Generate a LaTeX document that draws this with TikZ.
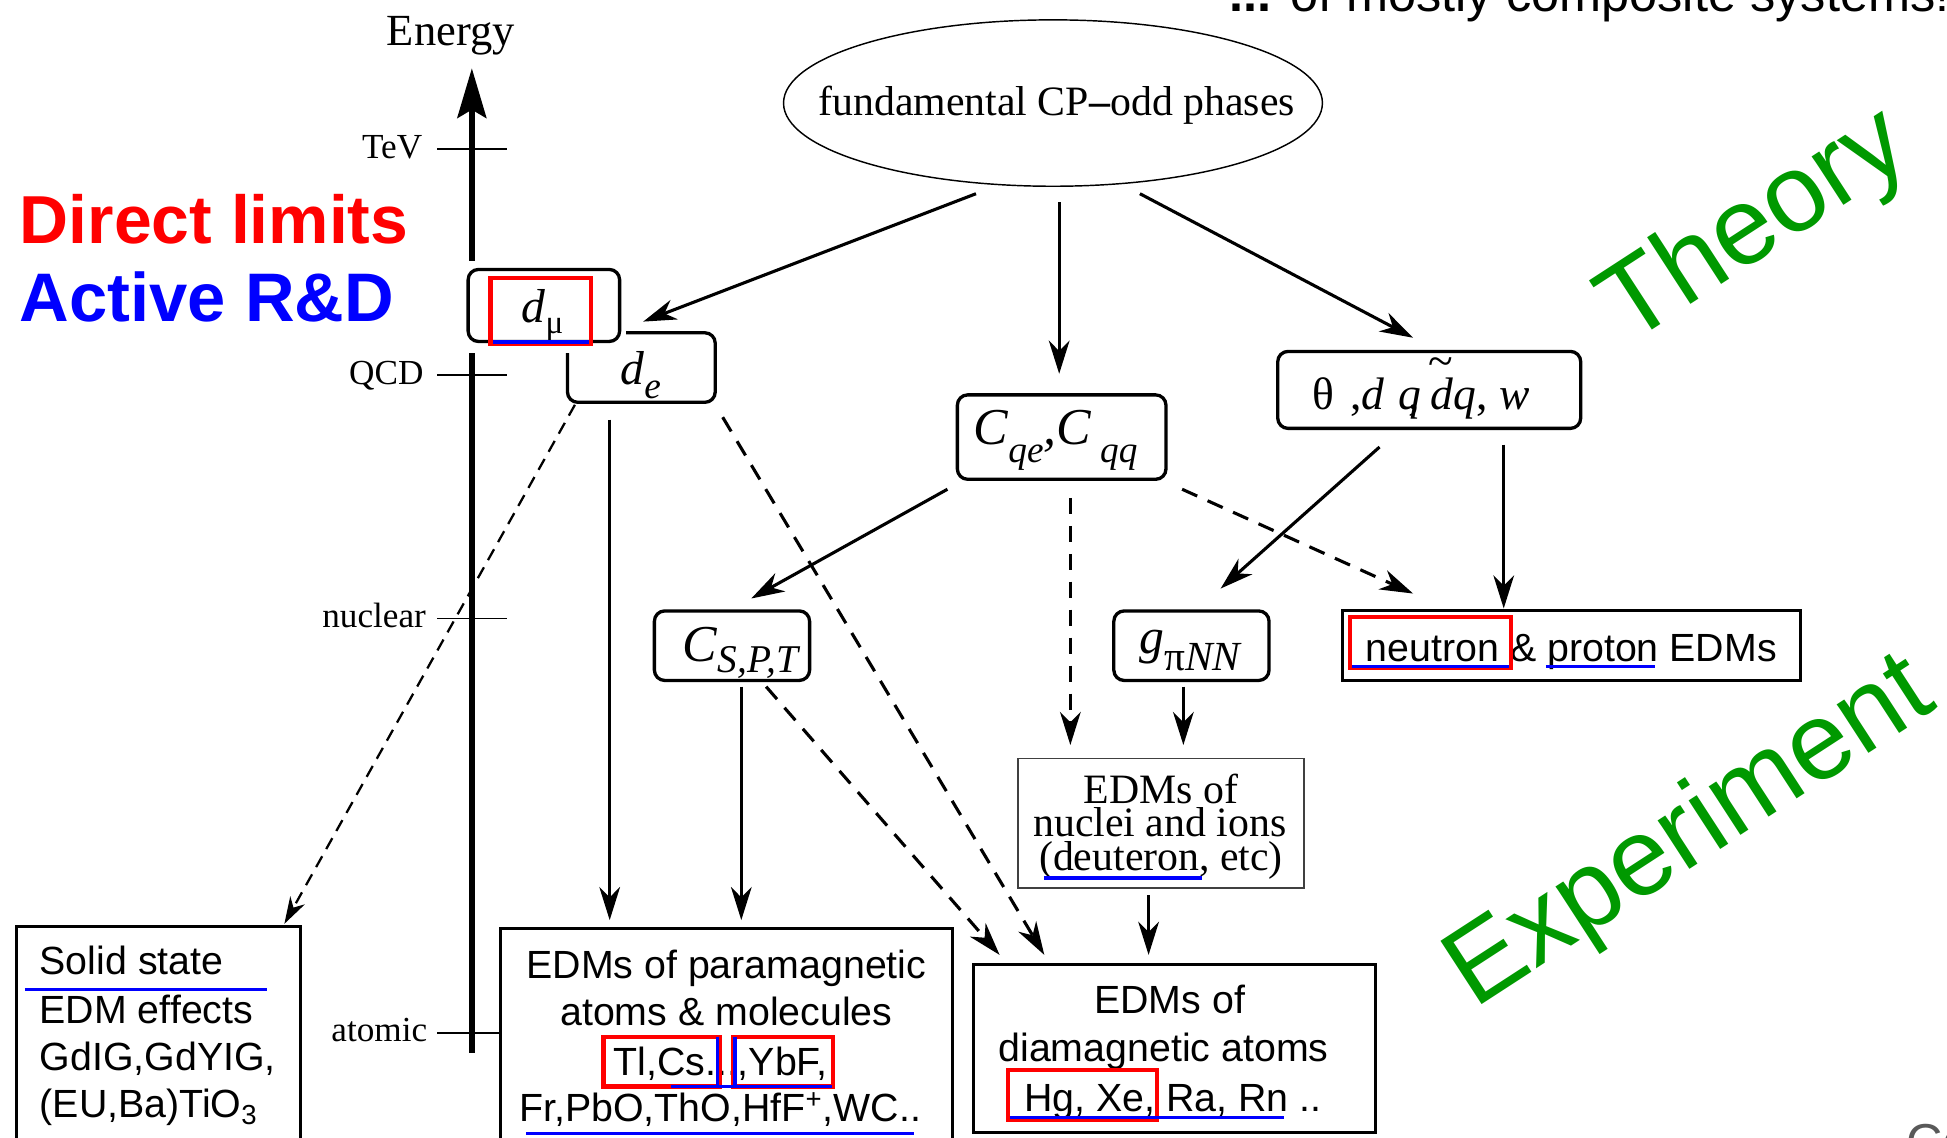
\documentclass[tikz,border=0pt]{standalone}
\usepackage{fontspec}
\setmainfont{Liberation Serif}
\setsansfont{Liberation Sans}
\usetikzlibrary{arrows.meta,shapes.geometric,calc}
\newcommand\fs[1]{\fontsize{#1}{#1}\selectfont}
\newcommand\pu{0.6pt}
\newcommand\tilded{\textit{d}\llap{\raisebox{0.72em}{\char"7E}\kern0.02em}}
\definecolor{gr}{RGB}{0,153,0}
\begin{document}
\begin{tikzpicture}[x=0.6pt,y=-0.6pt,
  tx/.style={inner sep=0pt, outer sep=0pt},
  rbox/.style={draw, line width=1.6pt, rounded corners=5pt, inner sep=0pt},
  sbox/.style={draw, line width=1.5pt, inner sep=0pt},
  arr/.style={line width=1.5pt, -{Stealth[length=16pt,width=10pt,inset=5pt]}},
  darr/.style={arr, dash pattern=on 8pt off 5.5pt},
  tickl/.style={line width=0.8pt},
  redb/.style={draw=red, line width=2pt},
  blul/.style={draw=blue, line width=1.6pt},
  serif/.style={tx, font=\fs{17}},
  para/.style={tx, font=\sffamily\fs{19}},
]
\fill[white] (0,0) rectangle (1568,916);
\useasboundingbox (0,0) rectangle (1568,916);

% ---------- energy axis ----------
\coordinate (axb) at (380,848);
\coordinate (axt) at (380,55);
\draw[line width=2.6pt, -{Stealth[length=24pt,width=14pt,inset=4pt]}] (axb) -- (axt);
\node[tx, anchor=base] (energy) at (363,37) {\fs{21.5}Energy};
\draw[tickl] (352,120) -- (408,120);
\draw[tickl] (352,302) -- (408,302);
\draw[tickl] (352,498) -- (408,498);
\draw[tickl] (352,832) -- (403,832);
\node[serif, anchor=base east] (tev) at (340,128) {TeV};
\node[serif, anchor=base east] (qcd) at (341,310) {QCD};
\node[serif, anchor=base east] (nucl) at (343,505) {nuclear};
\node[serif, anchor=base east] (atom) at (344,839) {atomic};

% ---------- legends ----------
\node[tx, anchor=base west, text=red] (dl) at (16,196) {\sffamily\bfseries\fs{32.8}Direct limits};
\node[tx, anchor=base west, text=blue] (ard) at (16,259) {\sffamily\bfseries\fs{33.2}Active R\&D};
\node[tx, anchor=base west] (toptxt) at (990,9) {\sffamily\fs{24.4}\textbf{...} of mostly composite systems!};
\node[tx, anchor=base west, text=black!65] (ca) at (1535,934) {\sffamily\fs{24.4}Ca};
\node[tx, rotate=33, text=gr] (theory) at (1414,184) {\sffamily\fs{53}Theory};
\node[tx, rotate=33, text=gr] (exper) at (1362,672) {\sffamily\fs{53}Experiment};

% ---------- top ellipse ----------
\node[draw, ellipse, line width=0.7pt, minimum width=434*\pu, minimum height=134*\pu, inner sep=0pt] (ell) at (848,83) {};
\node[tx, anchor=base] (ellt) at (851,93) {\fs{20.2}fundamental CP\textbf{--}odd phases};

% ---------- rounded boxes ----------
\node[rbox, minimum width=119*\pu, minimum height=56*\pu] (de) at (516.5,296) {};
\fill[white] (372,210) rectangle (504,284);
\node[rbox, fill=white, minimum width=122*\pu, minimum height=58*\pu] (dmu) at (438,246) {};
\node[rbox, minimum width=168*\pu, minimum height=68*\pu] (cq) at (855,352) {};
\node[rbox, minimum width=244*\pu, minimum height=62*\pu] (th) at (1151,314) {};
\node[rbox, minimum width=125*\pu, minimum height=56*\pu] (cspt) at (589.5,520) {};
\node[rbox, minimum width=125*\pu, minimum height=56*\pu] (gpi) at (959.5,520) {};

\node[tx, anchor=base] (dmut) at (437,260) {\fs{23}\textit{d}\raisebox{-0.22em}{\fs{16}μ}};
\node[tx, anchor=base] (det) at (516,310) {\fs{23}\textit{d}\raisebox{-0.28em}{\fs{18}\textit{e}}};
\node[tx, anchor=base] (cqt) at (850,358) {\fs{25}\textit{C}\raisebox{-0.35em}{\fs{18}\textit{qe}}\textit{,C}\,\raisebox{-0.35em}{\fs{18}\textit{qq}}};
\node[tx, anchor=base west] (tht) at (1057,330) {\fs{22}θ\hspace{0.35em},\textit{d}\hspace{0.3em}\textit{q}\kern-0.28em,\hspace{0.25em}\tilded\textit{q}, \textit{w}};
\node[tx, anchor=base west] (csptt) at (550,533) {\fs{25}\textit{C}\raisebox{-0.2em}{\fs{19}\textit{S,P,T}}};
\node[tx, anchor=base] (gpit) at (959,526) {\fs{24}\textit{g}\raisebox{-0.35em}{\fs{20}π\textit{NN}}};

% ---------- square boxes ----------
\node[sbox, minimum width=369*\pu, minimum height=56*\pu] (neut) at (1265.5,520) {};
\node[tx, anchor=base west] (neutt) at (1100,533) {\sffamily\fs{19}neutron \& proton EDMs};

\node[draw=black!75, line width=0.7pt, inner sep=0pt, minimum width=230*\pu, minimum height=104*\pu] (nuc) at (935,663) {};
\node[tx, anchor=base] (nuc1) at (935,647) {\fs{20.2}EDMs of};
\node[tx, anchor=base] (nuc2) at (934,674) {\fs{20.2}nuclei and ions};
\node[tx, anchor=base] (nuc3) at (935,701) {\fs{20.2}(deuteron, etc)};

\node[sbox, minimum width=229*\pu, minimum height=204*\pu] (solid) at (127.5,848) {};
\node[para, anchor=base west] (sol1) at (32,785) {Solid state};
\node[para, anchor=base west] (sol2) at (32,824) {EDM effects};
\node[para, anchor=base west] (sol3) at (32,862) {GdIG,GdYIG,};
\node[para, anchor=base west] (sol4) at (32,900) {(EU,Ba)TiO\textsubscript{3}};

\node[sbox, minimum width=364*\pu, minimum height=202*\pu] (para) at (585,849) {};
\node[para, anchor=base] (par1) at (585,788) {EDMs of paramagnetic};
\node[para, anchor=base] (par2) at (585,826) {atoms \& molecules};
\node[para, anchor=base west] (par3) at (494,866) {Tl,Cs...,YbF,};
\node[para, anchor=base] (par4) at (580,903) {Fr,PbO,ThO,HfF\textsuperscript{+},WC..};

\node[sbox, minimum width=324*\pu, minimum height=135*\pu] (dia) at (946,844.5) {};
\node[para, anchor=base] (dia1) at (942,816) {EDMs of};
\node[para, anchor=base] (dia2) at (937,855) {diamagnetic atoms};
\node[para, anchor=base west] (dia3) at (825,895) {Hg, Xe, Ra, Rn ..};

% ---------- red / blue marks ----------
\draw[redb] (395,224) rectangle (476,277);
\draw[blul] (397,275.5) -- (474,275.5);
\draw[redb] (1087,497) rectangle (1217,538);
\draw[blul] (1089,537) -- (1215,537);
\draw[blul] (1245,537) -- (1333,537);
\draw[blul] (841,707) -- (968,707);
\draw[blul] (20,797) -- (215,797);
\draw[redb] (486,835) rectangle (580,875);
\draw[redb] (590,835) rectangle (671,875);
\draw[blul] (578,835) -- (578,875);
\draw[blul] (592,835) -- (592,875);
\draw[blul] (540,875) -- (670,875);
\draw[blul] (424,913) -- (736,913);
\draw[redb] (812,862) rectangle (932,902);
\draw[blul] (813,900) -- (1034,900);

% ---------- connectors ----------
\draw[arr] ($(ell.center)+(-62,73)$) -- ($(dmu.center)+(80,13)$);
\draw[arr] ($(ell.center)+(5,80)$) -- ($(cq.center)+(-2,-51)$);
\draw[arr] ($(ell.center)+(70,73)$) -- ($(th.center)+(-13,-42)$);
\draw[line width=1.1pt, dash pattern=on 6pt off 4pt, -{Stealth[length=13pt,width=8pt,inset=4pt]}] ($(de.center)+(-53.5,30)$) -- ($(solid.center)+(101.5,-104)$);
\draw[arr] ($(de.center)+(-25.5,42)$) -- ($(para.center)+(-94,-108)$);
\draw[darr] ($(de.center)+(65.5,40)$) -- ($(dia.center)+(-105,-75.5)$);
\draw[arr] ($(cq.center)+(-92,42)$) -- ($(cspt.center)+(15.5,-38)$);
\draw[darr] ($(cq.center)+(7,49)$) -- ($(nuc.center)+(-73,-63)$);
\draw[darr] ($(cq.center)+(97,42)$) -- ($(neut.center)+(-127.5,-42)$);
\draw[arr] ($(th.center)+(-40,46)$) -- ($(gpi.center)+(23.5,-46)$);
\draw[arr] ($(th.center)+(60,44)$) -- ($(neut.center)+(-54.5,-30)$);
\draw[arr] ($(cspt.center)+(7.5,33)$) -- ($(para.center)+(12,-108)$);
\draw[darr] ($(cspt.center)+(27.5,33)$) -- ($(dia.center)+(-141,-75.5)$);
\draw[arr] ($(gpi.center)+(-6.5,33)$) -- ($(nuc.center)+(18,-63)$);
\draw[arr] ($(nuc.center)+(-10,58)$) -- ($(dia.center)+(-21,-75.5)$);
\end{tikzpicture}
\end{document}
